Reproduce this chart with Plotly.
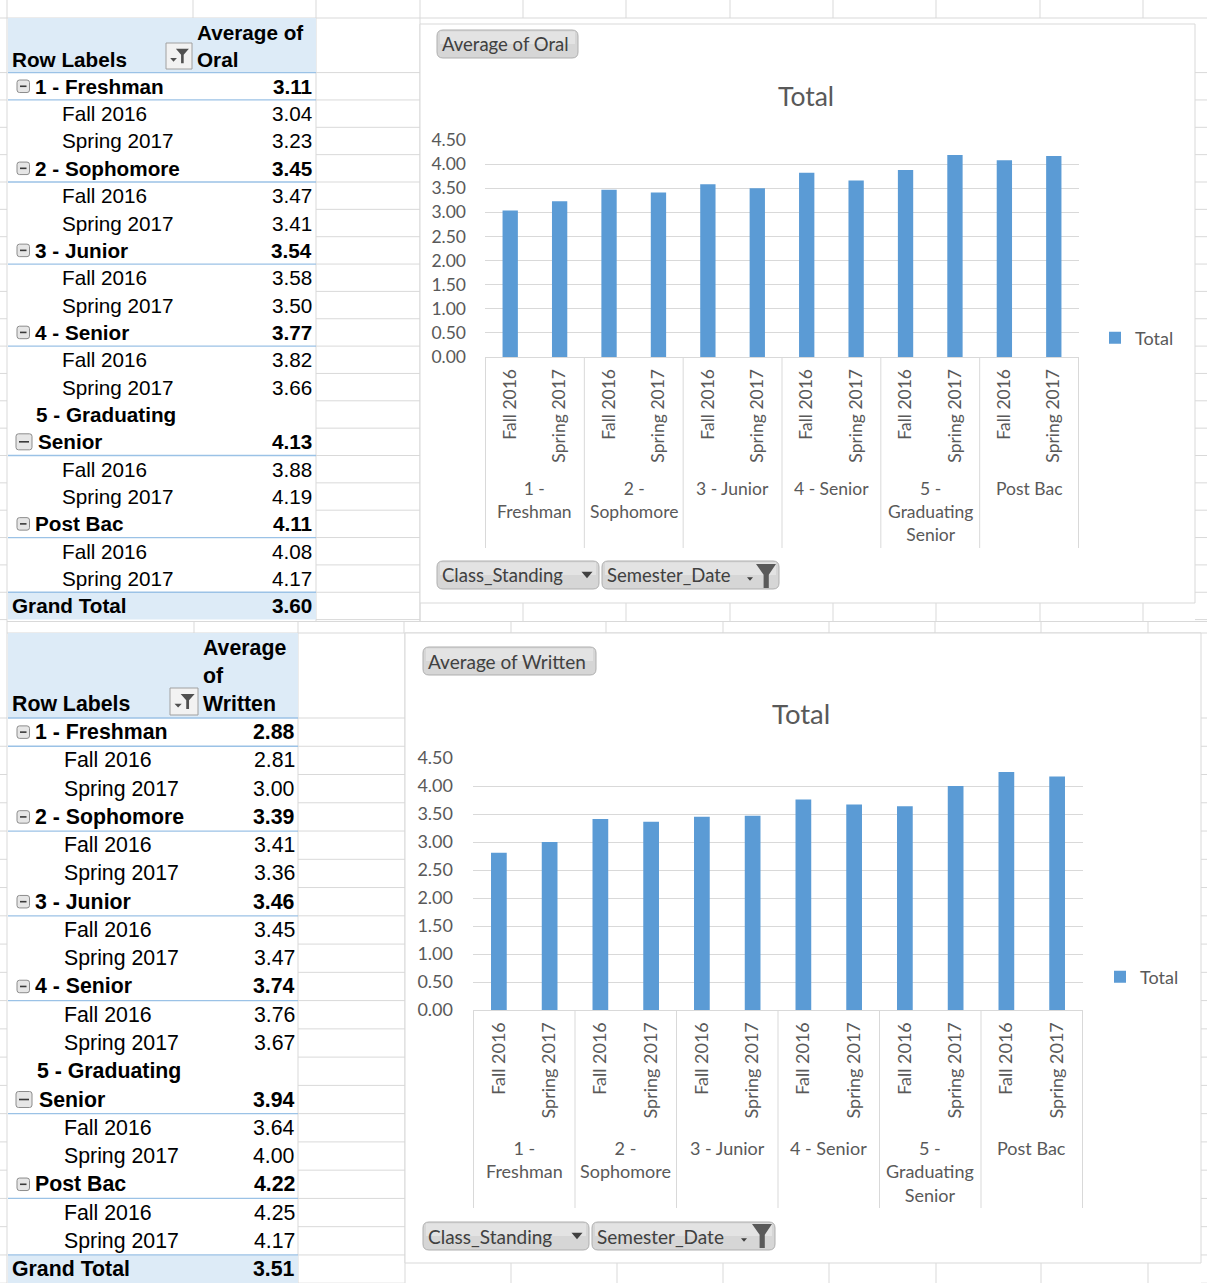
import plotly.graph_objects as go

W, H = 1207, 1283

# ---------------- data ----------------
class_standing = ["1 - Freshman", "2 - Sophomore", "3 - Junior", "4 - Senior",
                  "5 - Graduating Senior", "Post Bac"]
semesters = ["Fall 2016", "Spring 2017"]
chart_group_labels = ["1 -<br>Freshman", "2 -<br>Sophomore", "3 - Junior", "4 - Senior",
                      "5 -<br>Graduating<br>Senior", "Post Bac"]
pivot_group_lines = [["1 - Freshman"], ["2 - Sophomore"], ["3 - Junior"], ["4 - Senior"],
                     ["5 - Graduating", "Senior"], ["Post Bac"]]

oral_group_avg = [3.11, 3.45, 3.54, 3.77, 4.13, 4.11]
oral_fall_2016 = [3.04, 3.47, 3.58, 3.82, 3.88, 4.08]
oral_spring_2017 = [3.23, 3.41, 3.50, 3.66, 4.19, 4.17]
oral_grand_total = 3.60

written_group_avg = [2.88, 3.39, 3.46, 3.74, 3.94, 4.22]
written_fall_2016 = [2.81, 3.41, 3.45, 3.76, 3.64, 4.25]
written_spring_2017 = [3.00, 3.36, 3.47, 3.67, 4.00, 4.17]
written_grand_total = 3.51

y_tick_values = [0.0, 0.5, 1.0, 1.5, 2.0, 2.5, 3.0, 3.5, 4.0, 4.5]

oral_header_lines = ["Average of", "Oral"]
written_header_lines = ["Average", "of", "Written"]
row_labels_header = "Row Labels"
grand_total_label = "Grand Total"
oral_button = "Average of Oral"
written_button = "Average of Written"
field_buttons = ["Class_Standing", "Semester_Date"]
chart_title = "Total"
legend_name = "Total"

categories = [f"{g} | {s}" for g in class_standing for s in semesters]
semester_ticks = [s for g in class_standing for s in semesters]
oral_bars = [v for pair in zip(oral_fall_2016, oral_spring_2017) for v in pair]
written_bars = [v for pair in zip(written_fall_2016, written_spring_2017) for v in pair]

# ---------------- style ----------------
GRID = "#D9D9D9"
BLUE_LINE = "#9BC2E6"
HEADER_BG = "#DDEBF7"
BAR = "#5B9BD5"
TXT = "#595959"
BTN_TXT = "#404040"
TABLE_FONT = "Liberation Sans, Arial, sans-serif"
CHART_FONT = "Lato, sans-serif"

shapes = []
annotations = []


def X(p):
    return p / W


def Y(p):
    return 1 - p / H


def hline(x0, x1, y, color=GRID, width=1, layer="below"):
    shapes.append(dict(type="line", xref="paper", yref="paper", x0=X(x0), x1=X(x1),
                       y0=Y(y), y1=Y(y), line=dict(color=color, width=width), layer=layer))


def vline(x, y0, y1, color=GRID, width=1, layer="below"):
    shapes.append(dict(type="line", xref="paper", yref="paper", x0=X(x), x1=X(x),
                       y0=Y(y0), y1=Y(y1), line=dict(color=color, width=width), layer=layer))


def rect(x0, y0, x1, y1, fill, line_color=None, lw=1, layer="below"):
    shapes.append(dict(type="rect", xref="paper", yref="paper", x0=X(x0), x1=X(x1),
                       y0=Y(y1), y1=Y(y0), fillcolor=fill,
                       line=dict(color=line_color or "rgba(0,0,0,0)", width=lw if line_color else 0),
                       layer=layer))


def poly(points, fill, line_color=None, lw=1, layer="above"):
    d = "M " + " L ".join(f"{X(a)} {Y(b)}" for a, b in points) + " Z"
    shapes.append(dict(type="path", xref="paper", yref="paper", path=d, fillcolor=fill,
                       line=dict(color=line_color or fill, width=lw if line_color else 0),
                       layer=layer))


def rrect(x0, y0, x1, y1, r, fill, line_color, layer="above"):
    d = (f"M {X(x0 + r)} {Y(y0)} L {X(x1 - r)} {Y(y0)} Q {X(x1)} {Y(y0)} {X(x1)} {Y(y0 + r)} "
         f"L {X(x1)} {Y(y1 - r)} Q {X(x1)} {Y(y1)} {X(x1 - r)} {Y(y1)} L {X(x0 + r)} {Y(y1)} "
         f"Q {X(x0)} {Y(y1)} {X(x0)} {Y(y1 - r)} L {X(x0)} {Y(y0 + r)} Q {X(x0)} {Y(y0)} {X(x0 + r)} {Y(y0)} Z")
    shapes.append(dict(type="path", xref="paper", yref="paper", path=d, fillcolor=fill,
                       line=dict(color=line_color, width=1), layer=layer))


def text(x, y, s, size, color="#000000", anchor="left", bold=False, family=TABLE_FONT):
    annotations.append(dict(xref="paper", yref="paper", x=X(x), y=Y(y), text=(f"<b>{s}</b>" if bold else s),
                            showarrow=False, xanchor=anchor, yanchor="middle",
                            font=dict(family=family, size=size, color=color)))


# ---------------- spreadsheet grid ----------------
top_row_h = 27.35
top_hb = 72.6
bot_row_h = 28.26
bot_hb = 718.0
top_bounds = [top_hb + k * top_row_h for k in range(21)]
bot_bounds = [bot_hb + k * bot_row_h for k in range(21)]

vline(7, 0, H)
hline(7, W, 18)
for xv in [193, 316, 420, 523, 626, 730, 833, 936, 1040, 1143]:
    vline(xv, 0, 18)
for b in [18] + top_bounds:
    hline(0, 7, b)
for b in top_bounds:
    hline(316, 420, b)
    hline(1195, W, b)
vline(316, 18, 622)
vline(420, 18, 622)
for xv in [420, 523, 626, 730, 833, 936, 1040, 1143]:
    vline(xv, 603, 621)
hline(7, W, 621.5)
hline(7, W, 633)
for xv in [194, 298, 404, 511, 606, 723, 829, 935, 1041, 1148]:
    vline(xv, 622, 633)
for b in bot_bounds:
    hline(0, 7, b)
    hline(298, 405, b)
    hline(1201, W, b)
vline(298, 633, H)
vline(405, 633, H)
for xv in [511, 617, 723, 829, 936, 1041, 1148]:
    vline(xv, 1263, H)

# chart areas
rect(420, 24, 1195, 603, "#FFFFFF", GRID)
rect(405, 633, 1201, 1263, "#FFFFFF", GRID)


# ---------------- pivot tables ----------------
def collapse_icon(yc, big, x0):
    s = 16 if big else 12.5
    x1 = x0 + s
    rrect(x0, yc - s / 2, x1, yc + s / 2, 2.5, "#E6E6E6", "#8C8C8C", layer="below")
    hline(x0 + 3, x1 - 3, yc, "#3A3A3A", 1.6)


def filter_icon(x0, y0, x1, y1):
    rect(x0, y0, x1, y1, "#F2F2F2", "#A0A0A0")
    w = x1 - x0
    h = y1 - y0
    poly([(x0 + w * 0.38, y0 + h * 0.22), (x0 + w * 0.88, y0 + h * 0.22),
          (x0 + w * 0.68, y0 + h * 0.45), (x0 + w * 0.68, y0 + h * 0.78),
          (x0 + w * 0.58, y0 + h * 0.78), (x0 + w * 0.58, y0 + h * 0.45)], "#505050", layer="above")
    poly([(x0 + w * 0.16, y0 + h * 0.58), (x0 + w * 0.42, y0 + h * 0.58),
          (x0 + w * 0.29, y0 + h * 0.72)], "#505050", layer="above")


def draw_pivot(cfg, header_lines, g_avg, fall, spring, grand):
    fs = cfg["fs"]
    xl, xr, hb, rh = cfg["x_left"], cfg["x_right"], cfg["hb"], cfg["rh"]
    vr = cfg["val_right"]
    rect(xl, cfg["top"], xr, hb, HEADER_BG)
    hline(xl, xr, hb, BLUE_LINE, 1.3)
    n = len(header_lines)
    for j, line in enumerate(header_lines):
        text(cfg["x_hdr"], hb - (n - j - 0.5) * cfg["hp"], line, fs, bold=True)
    text(10, hb - 0.5 * cfg["hp"], row_labels_header, fs, bold=True)
    filter_icon(*cfg["filter"])

    def yc(s):
        return hb + (s + 0.5) * rh

    slot = 0
    for i, lines in enumerate(pivot_group_lines):
        if len(lines) > 1:
            for ln in lines[:-1]:
                text(cfg["x_grad"], yc(slot), ln, fs, bold=True)
                slot += 1
            collapse_icon(yc(slot), True, 16)
            text(cfg["x_senior"], yc(slot), lines[-1], fs, bold=True)
        else:
            collapse_icon(yc(slot), False, 17)
            text(cfg["x_group"], yc(slot), lines[0], fs, bold=True)
        text(vr, yc(slot), f"{g_avg[i]:.2f}", fs, anchor="right", bold=True)
        hline(xl, xr, hb + (slot + 1) * rh, BLUE_LINE, 1.3)
        slot += 1
        for sem, val in zip(semesters, (fall[i], spring[i])):
            text(cfg["x_child"], yc(slot), sem, fs)
            text(vr, yc(slot), f"{val:.2f}", fs, anchor="right")
            slot += 1
    rect(xl, hb + slot * rh, xr, hb + (slot + 1) * rh, HEADER_BG)
    hline(xl, xr, hb + slot * rh, BLUE_LINE, 1.3)
    text(10, yc(slot), grand_total_label, fs, bold=True)
    text(vr, yc(slot), f"{grand:.2f}", fs, anchor="right", bold=True)


top_cfg = dict(fs=20.7, x_left=8, x_right=316, top=18, hb=top_hb, rh=top_row_h, hp=27,
               val_right=314, x_hdr=195, x_group=33, x_child=60, x_grad=34, x_senior=36,
               filter=(166, 43, 192, 69))
bot_cfg = dict(fs=21.3, x_left=8, x_right=298, top=633, hb=bot_hb, rh=bot_row_h, hp=28,
               val_right=297, x_hdr=201, x_group=33, x_child=62, x_grad=35, x_senior=37,
               filter=(170, 688, 198, 715))
draw_pivot(top_cfg, oral_header_lines, oral_group_avg, oral_fall_2016, oral_spring_2017, oral_grand_total)
draw_pivot(bot_cfg, written_header_lines, written_group_avg, written_fall_2016, written_spring_2017,
           written_grand_total)


# ---------------- chart decorations ----------------
def field_button(x0, y0, x1, y1, label, tx, fs):
    rrect(x0, y0, x1, y1, 6, "#D6D6D6", "#AFAFAF")
    rect(x0 + 3, y0 + 1.5, x1 - 3, (y0 + y1) / 2, "#E3E3E3", layer="above")
    text(tx, (y0 + y1) / 2, label, fs, color=BTN_TXT, family=CHART_FONT)


def dropdown_arrow(xc, yc, s=5.5):
    poly([(xc - s, yc - s * 0.6), (xc + s, yc - s * 0.6), (xc, yc + s * 0.6)], "#404040")


def funnel(x0, y0, x1, y1):
    w = x1 - x0
    h = y1 - y0
    poly([(x0, y0), (x1, y0), (x0 + w * 0.64, y0 + h * 0.45), (x0 + w * 0.64, y1),
          (x0 + w * 0.38, y1), (x0 + w * 0.38, y0 + h * 0.45)], "#5A5A5A")


# top chart
field_button(437, 30, 578, 58, oral_button, 440, 18.5)
field_button(437, 561, 599, 589, field_buttons[0], 440, 18.5)
dropdown_arrow(587, 575)
field_button(602, 561, 779, 589, field_buttons[1], 605, 18.5)
dropdown_arrow(750, 579, 3)
funnel(756, 564, 776, 588)
text(806, 96, chart_title, 26.5, color=TXT, anchor="center", family=CHART_FONT)

# bottom chart
field_button(423, 647, 596, 675, written_button, 426, 19)
field_button(423, 1222, 589, 1250, field_buttons[0], 426, 19)
dropdown_arrow(577, 1236)
field_button(592, 1222, 775, 1250, field_buttons[1], 595, 19)
dropdown_arrow(744, 1240, 3)
funnel(752, 1224, 772, 1248)
text(801, 713, chart_title, 27.5, color=TXT, anchor="center", family=CHART_FONT)


def chart_axes(xname, yname, xdom_px, y0_px, y1_px, fs, sep_bottom_px, group_top_px, gfs, ystand):
    xa = dict(domain=[X(xdom_px[0]), X(xdom_px[1])], anchor=yname, type="category",
              categoryorder="array", categoryarray=categories, tickmode="array",
              tickvals=categories, ticktext=semester_ticks, tickangle=-90,
              tickfont=dict(family=CHART_FONT, size=fs, color=TXT), showgrid=False,
              showline=True, linecolor=GRID, linewidth=1, ticks="", zeroline=False,
              fixedrange=True, ticklabelstandoff=4, automargin=False)
    ya = dict(domain=[Y(y0_px), Y(y1_px)], anchor=xname, range=[0, 4.5], tickmode="array",
              tickvals=y_tick_values, ticktext=[f"{v:.2f}" for v in y_tick_values],
              tickfont=dict(family=CHART_FONT, size=fs, color=TXT), showgrid=True,
              gridcolor=GRID, gridwidth=1, showline=False, zeroline=False, ticks="",
              fixedrange=True, ticklabelstandoff=ystand, automargin=False)
    for i in range(len(class_standing) + 1):
        shapes.append(dict(type="line", xref=xname, yref="paper", x0=2 * i - 0.5, x1=2 * i - 0.5,
                           y0=Y(y0_px), y1=Y(sep_bottom_px), line=dict(color=GRID, width=1),
                           layer="above"))
    for i, lab in enumerate(chart_group_labels):
        annotations.append(dict(xref=xname, yref="paper", x=2 * i + 0.5, y=Y(group_top_px), text=lab,
                                showarrow=False, xanchor="center", yanchor="top",
                                font=dict(family=CHART_FONT, size=gfs, color=TXT)))
    return xa, ya


xa1, ya1 = chart_axes("x", "y", (485, 1079), 357, 140, 17.5, 548, 476, 17.5, 18)
xa2, ya2 = chart_axes("x2", "y2", (473, 1083), 1010, 758, 18, 1208, 1135, 18, 19)

fig = go.Figure()
fig.add_trace(go.Bar(x=categories, y=oral_bars, name=legend_name, marker=dict(color=BAR, line=dict(width=0)),
                     width=0.31, xaxis="x", yaxis="y", legend="legend", hoverinfo="skip"))
fig.add_trace(go.Bar(x=categories, y=written_bars, name=legend_name, marker=dict(color=BAR, line=dict(width=0)),
                     width=0.31, xaxis="x2", yaxis="y2", legend="legend2", hoverinfo="skip"))

legend_font = dict(family=CHART_FONT, size=18, color=TXT)
fig.update_layout(
    width=W, height=H, autosize=False,
    margin=dict(l=0, r=0, t=0, b=0, pad=0, autoexpand=False),
    paper_bgcolor="#FFFFFF", plot_bgcolor="rgba(0,0,0,0)",
    xaxis=xa1, yaxis=ya1, xaxis2=xa2, yaxis2=ya2,
    showlegend=True,
    legend=dict(x=X(1095), y=Y(338), xanchor="left", yanchor="middle", font=legend_font,
                bgcolor="rgba(0,0,0,0)", borderwidth=0, itemclick=False, itemdoubleclick=False),
    legend2=dict(x=X(1100), y=Y(977), xanchor="left", yanchor="middle", font=legend_font,
                 bgcolor="rgba(0,0,0,0)", borderwidth=0, itemclick=False, itemdoubleclick=False),
    shapes=shapes, annotations=annotations, hovermode=False,
)

fig.write_html("out.html", include_plotlyjs=True,
               config=dict(displayModeBar=False, staticPlot=False),
               post_script="document.body.style.margin='0';document.body.style.overflow='hidden';")
